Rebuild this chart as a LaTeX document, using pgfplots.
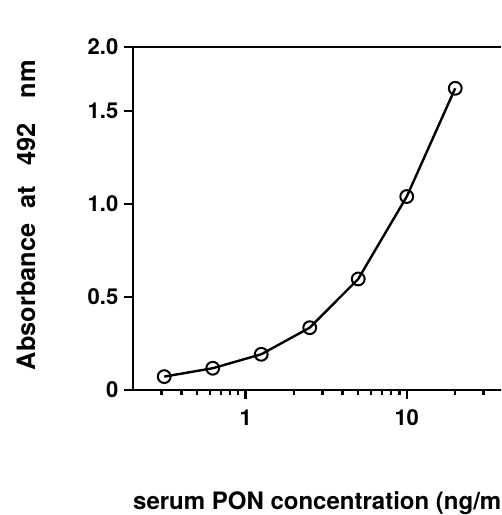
\documentclass[border=0pt]{standalone}
\usepackage{fontspec}
\setmainfont{TeX Gyre Heros}
\usepackage{pgfplots}
\pgfplotsset{compat=1.18}

\begin{document}
\begin{tikzpicture}
% page = 501 x 515 px of the reference, 1 px = 0.75pt
\useasboundingbox (0,0) rectangle (375.75pt,386.25pt);
\clip (0,0) rectangle (375.75pt,386.25pt);
\begin{axis}[
  at={(99.75pt,93.75pt)}, anchor=south west,
  scale only axis, width=284.25pt, height=257.25pt,
  xmode=log, xmin=0.2, xmax=45,
  ymin=0, ymax=1.844,
  xtick={1,10}, xticklabels={1,10},
  minor xtick={0.3,0.4,0.5,0.6,0.7,0.8,0.9,2,3,4,5,6,7,8,9,20,30,40},
  ytick={0,0.5,1,1.5,1.844}, yticklabels={0,0.5,1.0,1.5,2.0},
  xtick pos=left, ytick pos=left,
  tick align=outside,
  major tick length=6.5pt, minor tick length=3.5pt,
  axis line style={line width=1.7pt},
  every tick/.style={black, line width=1.7pt},
  tick label style={font=\fontsize{16.5}{19}\selectfont\bfseries},
  yticklabel style={xshift=-1pt},
  xticklabel style={yshift=-5pt},
  label style={font=\fontsize{18}{21}\selectfont\bfseries},
  xlabel={serum PON concentration (ng/ml)},
  xlabel style={at={(axis description cs:-0.012,-0.33)}, anchor=west},
  ylabel={\fontsize{19}{22}\selectfont Absorbance\hspace{0.6em}at\hspace{0.8em}492\hspace{1em}nm},
  ylabel style={at={(axis description cs:-0.282,0.51)}, anchor=center},
]
\addplot[black, line width=1.8pt, mark=o, mark size=4.8pt,
  mark options={fill=white, line width=1.5pt}] coordinates {
  (0.3125,0.072) (0.625,0.117) (1.25,0.192) (2.5,0.335)
  (5,0.597) (10,1.04) (20,1.622)
};
\end{axis}
\end{tikzpicture}
\end{document}
